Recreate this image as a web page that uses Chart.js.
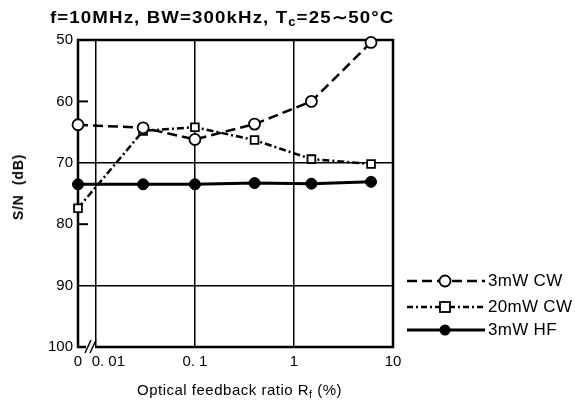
<!DOCTYPE html>
<html>
<head>
<meta charset="utf-8">
<script src="https://cdn.jsdelivr.net/npm/chart.js@4.4.0/dist/chart.umd.min.js"></script>
<style>
  body { margin: 0; background: #fff; }
  #quadro { position: relative; width: 575px; height: 403px; font-family: "Liberation Sans", Arial, sans-serif; color: #000; }
  #grafico { position: absolute; left: 0; top: 0; }
  #titulo { position: absolute; left: 50px; top: 7px; font-size: 17px; font-weight: bold; letter-spacing: 1px; white-space: nowrap; transform: scaleX(1.1); transform-origin: left center; }
  #titulo sub, #titulo-x sub { font-size: 0.7em; vertical-align: -0.25em; }
  #titulo-x { position: absolute; left: 137px; top: 381px; font-size: 15px; letter-spacing: 0.5px; white-space: nowrap; }
  #titulo-y { position: absolute; left: 18px; top: 187px; font-size: 14px; font-weight: bold; letter-spacing: 0.8px; white-space: nowrap; transform: translate(-50%, -50%) rotate(-90deg); }
  .legenda { position: absolute; left: 405px; height: 16px; display: flex; align-items: center; font-size: 17px; letter-spacing: 0.3px; white-space: nowrap; }
  .legenda svg { margin-right: 3px; }
</style>
</head>
<body>
<div id="quadro">
  <canvas id="grafico" width="575" height="403"></canvas>
  <div id="titulo">f=10MHz, BW=300kHz, T<sub>c</sub>=25∼50°C</div>
  <div id="titulo-x">Optical feedback ratio R<sub>f</sub> (%)</div>
  <div id="titulo-y">S/N&nbsp; (dB)</div>
  <div class="legenda" style="top:273px">
    <svg width="80" height="16"><line x1="2" y1="8" x2="80" y2="8" stroke="#000" stroke-width="2.5" stroke-dasharray="10 5"/><circle cx="40" cy="8" r="5.5" fill="#fff" stroke="#000" stroke-width="1.8"/></svg>3mW CW
  </div>
  <div class="legenda" style="top:299px">
    <svg width="80" height="16"><line x1="2" y1="8" x2="80" y2="8" stroke="#000" stroke-width="2.5" stroke-dasharray="6 3 2 3"/><rect x="35" y="3" width="10" height="10" fill="#fff" stroke="#000" stroke-width="1.8"/></svg>20mW CW
  </div>
  <div class="legenda" style="top:322px">
    <svg width="80" height="16"><line x1="2" y1="8" x2="80" y2="8" stroke="#000" stroke-width="3"/><circle cx="40" cy="8" r="5.5" fill="#000"/></svg>3mW HF
  </div>
</div>
<script>
// Razão de realimentação óptica (%) — o "0" fica na posição da quebra do eixo
const razaoRf = [0, 0.03, 0.1, 0.4, 1.5, 6];
const sn3mwCw = [63.8, 64.3, 66.2, 63.7, 60.0, 50.4];
const sn20mwCw = [77.4, 64.8, 64.2, 66.3, 69.4, 70.2];
const sn3mwHf = [73.5, 73.5, 73.5, 73.3, 73.4, 73.1];

const ticksX = [0, 0.01, 0.1, 1, 10];
// "0. 01" fica deslocado para a direita por causa da quebra
const rotulosX = ["0", "      0. 01", "0. 1", "1", "10"];
const ticksY = [50, 60, 70, 80, 90, 100];

const POS_ZERO = 0.0066; // onde o "0" cai no eixo log
const posX = (v) => (v === 0 ? POS_ZERO : v);
const pontos = (serie) => razaoRf.map((x, i) => ({ x: posX(x), y: serie[i] }));

const fonteTicks = { family: "'Liberation Sans', Arial, sans-serif", size: 15 };

// moldura, marcas curtas em 60/80 e a quebra "//" do eixo x
const pluginMoldura = {
  id: "moldura",
  beforeDatasetsDraw(chart) {
    const { ctx, chartArea: a, scales } = chart;
    ctx.save();
    ctx.strokeStyle = "#000";
    ctx.lineWidth = 2.5;
    ctx.strokeRect(a.left, a.top, a.right - a.left, a.bottom - a.top);

    ctx.lineWidth = 2;
    [60, 80].forEach((v) => {
      const y = scales.y.getPixelForValue(v);
      ctx.beginPath();
      ctx.moveTo(a.left, y);
      ctx.lineTo(a.left + 10, y);
      ctx.stroke();
    });

    // quebra
    ctx.fillStyle = "#fff";
    ctx.fillRect(a.left + 8, a.bottom - 3, 9, 6);
    ctx.lineWidth = 1.5;
    [a.left + 7, a.left + 12].forEach((x0) => {
      ctx.beginPath();
      ctx.moveTo(x0, a.bottom + 6);
      ctx.lineTo(x0 + 6, a.bottom - 7);
      ctx.stroke();
    });
    ctx.restore();
  }
};

new Chart(document.getElementById("grafico"), {
  type: "line",
  data: {
    datasets: [
      {
        label: "3mW CW",
        data: pontos(sn3mwCw),
        borderColor: "#000",
        borderWidth: 2.5,
        borderDash: [10, 5],
        pointStyle: "circle",
        pointRadius: 5.5,
        pointBackgroundColor: "#fff",
        pointBorderColor: "#000",
        pointBorderWidth: 1.8,
        clip: false
      },
      {
        label: "20mW CW",
        data: pontos(sn20mwCw),
        borderColor: "#000",
        borderWidth: 2.5,
        borderDash: [7, 3, 2, 3],
        pointStyle: "rect",
        pointRadius: 5.5,
        pointBackgroundColor: "#fff",
        pointBorderColor: "#000",
        pointBorderWidth: 1.8,
        clip: false
      },
      {
        label: "3mW HF",
        data: pontos(sn3mwHf),
        borderColor: "#000",
        borderWidth: 3,
        pointStyle: "circle",
        pointRadius: 5.5,
        pointBackgroundColor: "#000",
        pointBorderColor: "#000",
        pointBorderWidth: 1,
        clip: false
      }
    ]
  },
  options: {
    responsive: false,
    animation: false,
    devicePixelRatio: 1,
    layout: { padding: { top: 40, right: 182, bottom: 0, left: 0 } },
    plugins: { legend: { display: false }, tooltip: { enabled: false } },
    scales: {
      x: {
        type: "logarithmic",
        min: POS_ZERO,
        max: 10,
        afterBuildTicks: (s) => { s.ticks = ticksX.map((v) => ({ value: posX(v) })); },
        afterFit: (s) => { s.height = 56; },
        border: { display: false },
        grid: {
          drawTicks: false,
          lineWidth: 1.5,
          color: (c) => ([0.01, 0.1, 1].includes(c.tick && c.tick.value) ? "#000" : "transparent")
        },
        ticks: {
          autoSkip: false,
          maxRotation: 0,
          padding: 6,
          color: "#000",
          font: fonteTicks,
          callback: (v) => {
            const i = ticksX.findIndex((t) => posX(t) === v);
            return i >= 0 ? rotulosX[i] : "";
          }
        }
      },
      y: {
        reverse: true,
        min: 50,
        max: 100,
        afterBuildTicks: (s) => { s.ticks = ticksY.map((v) => ({ value: v })); },
        afterFit: (s) => { s.width = 78; },
        border: { display: false },
        grid: {
          drawTicks: false,
          lineWidth: 1.5,
          color: (c) => ([70, 90].includes(c.tick && c.tick.value) ? "#000" : "transparent")
        },
        ticks: { padding: 5, color: "#000", font: fonteTicks }
      }
    }
  },
  plugins: [pluginMoldura]
});
</script>
</body>
</html>
